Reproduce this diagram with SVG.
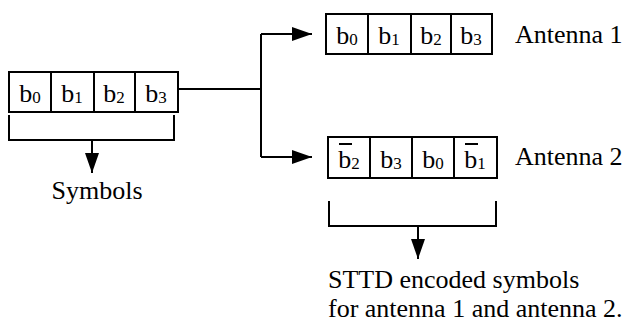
<svg xmlns="http://www.w3.org/2000/svg" width="629" height="325" viewBox="0 0 629 325">
<style>
.ln{fill:none;stroke:#000;stroke-width:2}
.bx{fill:#fff;stroke:#000;stroke-width:2}
.t{font-size:26px}
.c{font-size:26px;text-anchor:middle}
.s{font-size:17px}
</style>
<defs>
<marker id="ah" viewBox="0 0 20 14" refX="20" refY="7" markerWidth="20" markerHeight="14" markerUnits="userSpaceOnUse" orient="auto">
<path d="M0,0 L20,7 L0,14 Z" fill="#000"/>
</marker>
</defs>
<g id="connectors">
<path class="ln" d="M178,89 H261"/>
<path class="ln" d="M261,34 V157"/>
<path class="ln" d="M261,34 H312" marker-end="url(#ah)"/>
<path class="ln" d="M261,157 H312" marker-end="url(#ah)"/>
<path class="ln" d="M9,115 V140 H174 V115"/>
<path class="ln" d="M92,140 V173" marker-end="url(#ah)"/>
<path class="ln" d="M329,201 V226 H496 V201"/>
<path class="ln" d="M418,226 V259" marker-end="url(#ah)"/>
</g>
<g font-family="Liberation Serif, Times New Roman, serif" fill="#000">
<g id="input">
<rect class="bx" x="9" y="72" width="169" height="40"/>
<path class="ln" d="M51,72 V112 M94,72 V112 M135,72 V112"/>
<text class="c" x="30" y="102">b<tspan class="s" dy="1">0</tspan></text>
<text class="c" x="72" y="102">b<tspan class="s" dy="1">1</tspan></text>
<text class="c" x="114" y="102">b<tspan class="s" dy="1">2</tspan></text>
<text class="c" x="156" y="102">b<tspan class="s" dy="1">3</tspan></text>
</g>
<g id="symbols">
<text class="t" x="97" y="199" text-anchor="middle">Symbols</text>
</g>
<g id="antenna1">
<rect class="bx" x="326" y="14" width="166" height="40"/>
<path class="ln" d="M368,14 V54 M411,14 V54 M451,14 V54"/>
<text class="c" x="347" y="44">b<tspan class="s" dy="1">0</tspan></text>
<text class="c" x="389" y="44">b<tspan class="s" dy="1">1</tspan></text>
<text class="c" x="431" y="44">b<tspan class="s" dy="1">2</tspan></text>
<text class="c" x="471" y="44">b<tspan class="s" dy="1">3</tspan></text>
<text class="t" x="515" y="43">Antenna 1</text>
</g>
<g id="antenna2">
<rect class="bx" x="328" y="137" width="169" height="41"/>
<path class="ln" d="M370,137 V178 M412,137 V178 M454,137 V178"/>
<path class="ln" d="M339,144 H352 M465,144 H478" stroke-width="1.5"/>
<text class="c" x="349" y="168">b<tspan class="s" dy="1">2</tspan></text>
<text class="c" x="391" y="168">b<tspan class="s" dy="1">3</tspan></text>
<text class="c" x="433" y="168">b<tspan class="s" dy="1">0</tspan></text>
<text class="c" x="475" y="168">b<tspan class="s" dy="1">1</tspan></text>
<text class="t" x="515" y="165">Antenna 2</text>
</g>
<g id="caption">
<text class="t" x="328" y="288">STTD encoded symbols</text>
<text class="t" x="328" y="317">for antenna 1 and antenna 2.</text>
</g>
</g>
</svg>
